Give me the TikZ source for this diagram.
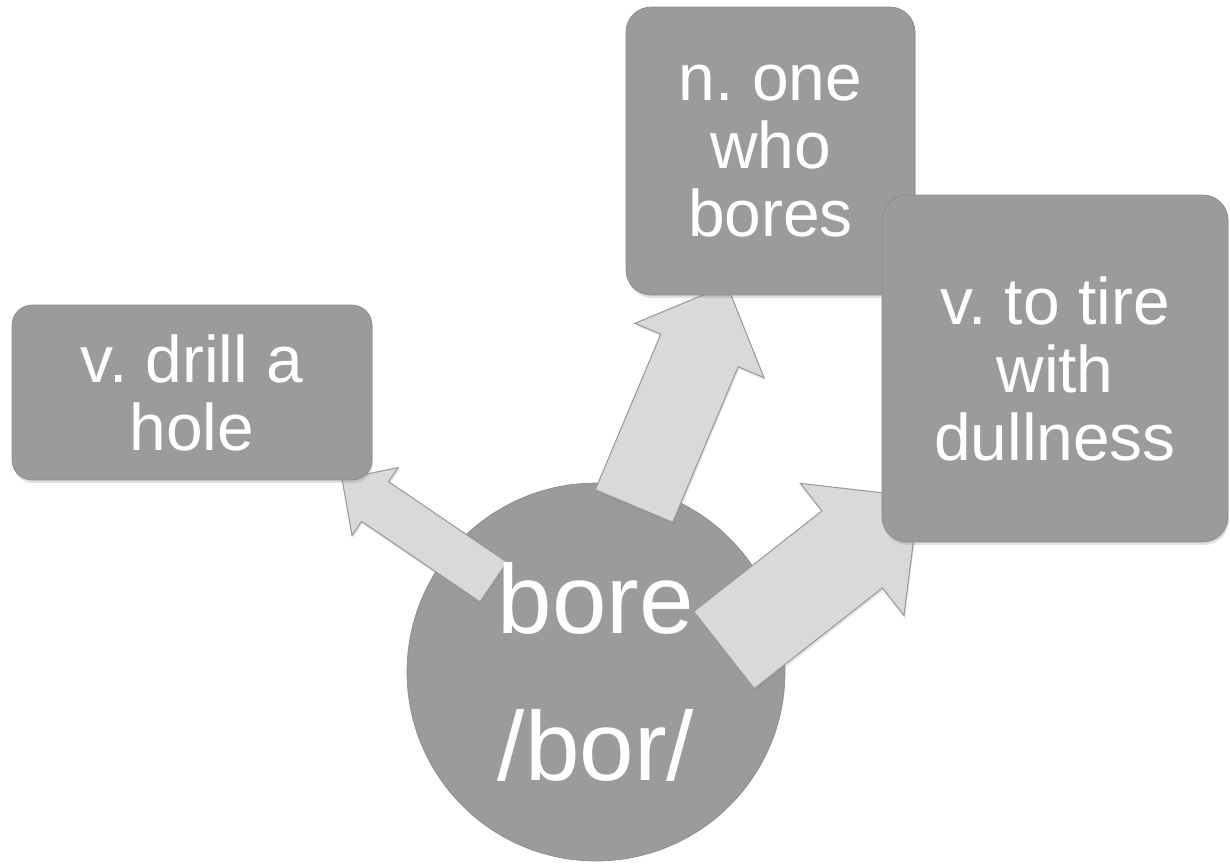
\documentclass[tikz,border=0pt]{standalone}
\usepackage{fontspec}
\setmainfont{Liberation Sans}
\usepackage{xcolor}
\usepackage{tikz}
\usetikzlibrary{calc}
\usetikzlibrary{shadows}
\frenchspacing
\definecolor{boxgray}{HTML}{9B9B9B}
\definecolor{boxedge}{HTML}{8C8C8C}
\definecolor{arrowgray}{HTML}{D9D9D9}
\definecolor{arrowedge}{HTML}{9A9A9A}
\tikzset{sense/.style={draw=boxedge, fill=boxgray, text=white, rounded corners=0.5cm, align=center, inner sep=0pt, font=\fontsize{37.5pt}{38.7pt}\selectfont, drop shadow={shadow xshift=0.02cm, shadow yshift=-0.06cm, opacity=0.25}}}
\tikzset{headword/.style={circle, draw=boxedge, fill=boxgray, minimum size=7.56cm, inner sep=0pt}}
\tikzset{headtext/.style={text=white, align=center, inner sep=0pt, font=\fontsize{55.8pt}{83.7pt}\selectfont}}
\tikzset{fat arrow/.style={draw=arrowedge, fill=arrowgray, line width=0.6pt, drop shadow={shadow xshift=0.02cm, shadow yshift=-0.05cm, opacity=0.2}}}
\newcommand{\blockarrow}[5]{%
\coordinate (#1h) at ($(#2)!#5!(#1)$);
\draw[fat arrow] ($(#1)!#3!90:(#2)$) -- ($(#1h)!#3!90:(#2)$) -- ($(#1h)!#4!90:(#2)$) -- (#2)
  -- ($(#1h)!#4!-90:(#2)$) -- ($(#1h)!#3!-90:(#2)$) -- ($(#1)!#3!-90:(#2)$) -- cycle;}

\begin{document}
\begin{tikzpicture}[x=0.02cm, y=-0.02cm]
\useasboundingbox[fill=white] (0,0) rectangle (1230,867);
\coordinate (t1) at (493.5,582); \coordinate (p1) at (342,479);
\coordinate (t2) at (634,506);   \coordinate (p2) at (727,285);
\coordinate (t3) at (724,650);   \coordinate (p3) at (919,497);
\node[headword] (bore) at (596,672) {};
\blockarrow{t1}{p1}{0.48cm}{0.82cm}{0.8cm}
\blockarrow{t2}{p2}{0.84cm}{1.4cm}{1.42cm}
\blockarrow{t3}{p3}{0.98cm}{1.68cm}{1.7cm}
\node[headtext] (boretext) at (bore) {bore\\/bor/};
\node[sense, rounded corners=0.4cm, minimum width=7.2cm, minimum height=3.5cm] (hole) at (192,392.5) {v. drill a\\hole};
\node[sense, minimum width=5.78cm, minimum height=5.76cm] (bores) at (770.5,151) {n. one\\who\\bores};
\node[sense, minimum width=6.92cm, minimum height=6.94cm] (dull) at (1055,368.5) {v. to tire\\with\\dullness};
\end{tikzpicture}
\end{document}
